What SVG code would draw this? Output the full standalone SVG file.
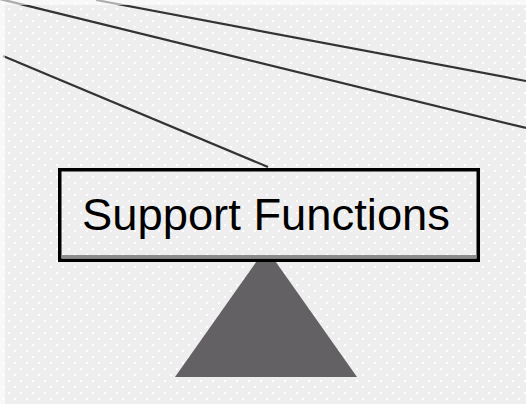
<svg xmlns="http://www.w3.org/2000/svg" width="526" height="404" viewBox="0 0 526 404">
<defs>
<style>
.conn{stroke:#333333;stroke-width:2.2;fill:none}
.box{stroke:#000;stroke-width:3.5}
.label{font-family:"Liberation Sans",Arial,sans-serif;font-size:45px;fill:#000}
</style>
<pattern id="dots" x="0" y="0" width="12" height="12" patternUnits="userSpaceOnUse">
<rect width="12" height="12" fill="#eeeeee"/>
<rect x="2" y="2" width="2" height="2" fill="#ffffff"/>
<rect x="8" y="8" width="2" height="2" fill="#ffffff"/>
<rect x="8" y="2" width="2" height="2" fill="#f4eaf4"/>
</pattern>
</defs>
<rect width="526" height="404" fill="url(#dots)"/>
<g id="connectors">
<line class="conn" x1="0" y1="-1" x2="526" y2="128"/>
<line class="conn" x1="96" y1="0" x2="526" y2="81"/>
<line class="conn" x1="3" y1="56" x2="268" y2="167"/>
</g>
<rect x="0" y="0" width="526" height="5" fill="#ffffff" opacity="0.6"/>
<rect x="0" y="5" width="5" height="399" fill="#ffffff" opacity="0.6"/>
<g id="triangle">
<polygon points="266,248 175,377 357,377" fill="#636163"/>
</g>
<g id="support-functions">
<rect class="box" x="59.75" y="169.75" width="418.5" height="90.5" fill="url(#dots)"/>
<rect x="61.5" y="255" width="415" height="3.5" fill="#8c8c8c"/>
<text class="label" x="82" y="230" textLength="368" lengthAdjust="spacingAndGlyphs">Support Functions</text>
</g>
</svg>
